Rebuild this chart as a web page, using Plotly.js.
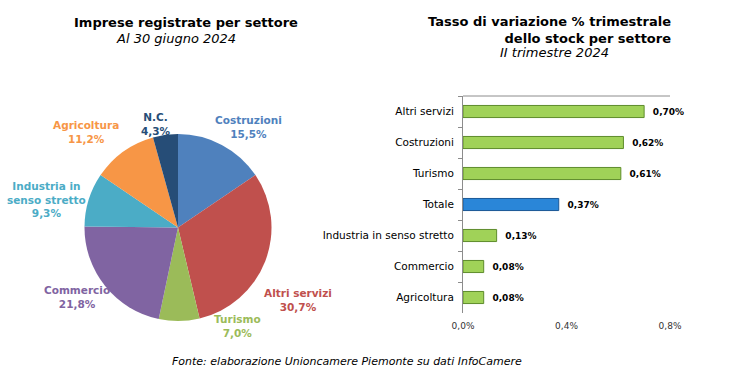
<!DOCTYPE html>
<html>
<head>
<meta charset="utf-8">
<script src="https://cdn.plot.ly/plotly-3.0.1.min.js"></script>
<style>html,body{margin:0;padding:0;background:#fff;}#chart{width:738px;height:385px;}</style>
</head>
<body>
<div id="chart"></div>
<script>
// Pie: imprese registrate per settore (%)
const pieLabels = ["Costruzioni", "Altri servizi", "Turismo", "Commercio", "Industria in<br>senso stretto", "Agricoltura", "N.C."];
const pieValues = [15.5, 30.7, 7.0, 21.8, 9.3, 11.2, 4.3];
const pieColors = ["#4F81BD", "#C0504D", "#9BBB59", "#8064A2", "#4BACC6", "#F79646", "#264D77"];

// Bars: tasso di variazione % trimestrale
const barCategories = ["Altri servizi", "Costruzioni", "Turismo", "Totale", "Industria in senso stretto", "Commercio", "Agricoltura"];
const barValues = [0.70, 0.62, 0.61, 0.37, 0.13, 0.08, 0.08];
const xTicks = [0, 0.4, 0.8];
const xTickText = ["0,0%", "0,4%", "0,8%"];

const F = "DejaVu Sans, Verdana, sans-serif";
const W = 738, H = 385;
const px = x => x / W, py = y => 1 - y / H;

// label block centres (pixels) for the pie labels
const pieLabelPos = [[248,127],[298,300],[237,326],[77,297],[46,200],[86,132],[156,124]];

const fmt = v => v.toFixed(1).replace('.', ',') + '%';

const annotations = pieLabels.map((l, i) => ({
  text: '<b>' + l + '<br>' + fmt(pieValues[i]) + '</b>',
  x: px(pieLabelPos[i][0]), y: py(pieLabelPos[i][1]),
  xref: 'paper', yref: 'paper', xanchor: 'center', yanchor: 'middle',
  showarrow: false, align: 'center', borderpad: 0,
  font: {family: F, size: 10.5, color: pieColors[i]}
}));

annotations.push(
  {text: '<b>Imprese registrate per settore</b>', x: px(186), y: py(22), xref:'paper', yref:'paper', xanchor:'center', yanchor:'middle', showarrow:false, borderpad:0, font:{family:F, size:13, color:'#000'}},
  {text: '<i>Al 30 giugno 2024</i>', x: px(176), y: py(38), xref:'paper', yref:'paper', xanchor:'center', yanchor:'middle', showarrow:false, borderpad:0, font:{family:F, size:13, color:'#000'}},
  {text: '<b>Tasso di variazione % trimestrale<br>dello stock per settore</b>', x: px(672), y: py(30), xref:'paper', yref:'paper', xanchor:'right', yanchor:'middle', align:'right', showarrow:false, borderpad:0, font:{family:F, size:13, color:'#000'}},
  {text: '<i>II trimestre 2024</i>', x: px(554), y: py(52), xref:'paper', yref:'paper', xanchor:'center', yanchor:'middle', showarrow:false, borderpad:0, font:{family:F, size:13, color:'#000'}},
  {text: '<i>Fonte: elaborazione Unioncamere Piemonte su dati InfoCamere</i>', x: px(347), y: py(361), xref:'paper', yref:'paper', xanchor:'center', yanchor:'middle', showarrow:false, borderpad:0, font:{family:F, size:11, color:'#000'}}
);

const pie = {
  type: 'pie', labels: pieLabels, values: pieValues,
  marker: {colors: pieColors, line: {color: '#ffffff', width: 0}},
  sort: false, direction: 'clockwise', rotation: 0,
  textinfo: 'none', hoverinfo: 'label+percent',
  domain: {x: [px(84), px(272)], y: [py(321), py(134)]},
  showlegend: false
};

const bar = {
  type: 'bar', orientation: 'h',
  x: barValues, y: barCategories,
  marker: {
    color: barCategories.map(c => c === 'Totale' ? '#2A86D8' : '#A0D258'),
    line: {color: barCategories.map(c => c === 'Totale' ? '#1A5796' : '#5E8C2B'), width: 1}
  },
  width: 0.39,
  text: barValues.map(v => v.toFixed(2).replace('.', ',') + '%'),
  texttemplate: '\u00a0\u00a0<b>%{text}</b>',
  textposition: 'outside', cliponaxis: false,
  textfont: {family: F, size: 9, color: '#000'},
  xaxis: 'x', yaxis: 'y', showlegend: false, hoverinfo: 'x+y'
};

const layout = {
  width: W, height: H,
  margin: {l: 0, r: 0, t: 0, b: 0},
  paper_bgcolor: '#fff', plot_bgcolor: '#fff',
  separators: ',.',
  font: {family: F, color: '#000'},
  showlegend: false,
  xaxis: {
    domain: [px(463), px(670)], range: [0, 0.8],
    tickmode: 'array', tickvals: xTicks, ticktext: xTickText,
    showgrid: false, zeroline: false, showline: false, ticks: '',
    ticklabelstandoff: 6,
    tickfont: {family: F, size: 9, color: '#333'},
    fixedrange: true
  },
  yaxis: {
    domain: [py(313), py(96)],
    autorange: 'reversed', type: 'category',
    showline: true, linecolor: '#8c8c8c', linewidth: 1,
    ticks: 'outside', tickson: 'boundaries', ticklen: 4, tickcolor: '#8c8c8c',
    ticklabelstandoff: 6,
    showgrid: false, zeroline: false,
    tickfont: {family: F, size: 10.5, color: '#000'},
    fixedrange: true
  },
  shapes: [
    {type: 'line', xref: 'x domain', yref: 'y domain', x0: 0, x1: 1, y0: 1, y1: 1, line: {color: '#8c8c8c', width: 1}}
  ],
  annotations: annotations
};

Plotly.newPlot('chart', [pie, bar], layout, {displayModeBar: false, staticPlot: true});
</script>
</body>
</html>
